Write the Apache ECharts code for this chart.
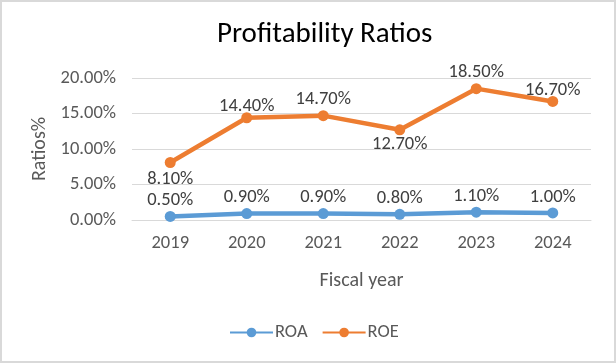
<!DOCTYPE html>
<html><head><meta charset="utf-8">
<script src="https://cdn.jsdelivr.net/npm/echarts@6/dist/echarts.min.js"></script>
<style>html,body{margin:0;padding:0;background:#fff}#c{width:616px;height:363px;box-sizing:border-box;border:2px solid #d9d9d9}</style>
</head><body><div id="c"></div>
<script>
const categories = ['2019','2020','2021','2022','2023','2024'];
const roa = [0.5, 0.9, 0.9, 0.8, 1.1, 1.0];
const roe = [8.1, 14.4, 14.7, 12.7, 18.5, 16.7];
const roeLabelPos = ['bottom','top','top','bottom','top','top'];
const roeLabelDist = [2, -4, 1, 0, 1, -4];
const FONT = 'Carlito, Calibri, Lato, sans-serif';
const chart = echarts.init(document.getElementById('c'));
const fmt = v => v.toFixed(2) + '%';
chart.setOption({
  animation: false,
  textStyle: {fontFamily: FONT},
  title: {text: 'Profitability Ratios', left: 210, top: 13,
    textStyle: {fontFamily: FONT, fontSize: 29, fontWeight: 'normal', color: '#000'}},
  legend: {top: 316, left: 222, itemWidth: 43, itemHeight: 12, itemGap: 14,
    textStyle: {fontFamily: FONT, fontSize: 18.5, color: '#595959', padding: [0,0,0,-3]},
    data: ['ROA','ROE']},
  grid: {left: 130, right: 23, top: 76, bottom: 141},
  xAxis: {type: 'category', data: categories, boundaryGap: true,
    name: 'Fiscal year', nameLocation: 'middle', nameGap: 51,
    nameTextStyle: {fontFamily: FONT, fontSize: 20, color: '#595959'},
    axisLine: {show: true, lineStyle: {color: '#d9d9d9'}}, axisTick: {show: false},
    axisLabel: {fontFamily: FONT, fontSize: 18.5, color: '#595959', margin: 14}},
  yAxis: {type: 'value', min: 0, max: 20, interval: 5,
    name: 'Ratios%', nameLocation: 'middle', nameGap: 82,
    nameTextStyle: {fontFamily: FONT, fontSize: 20, color: '#595959'},
    axisLine: {show: false}, axisTick: {show: false},
    splitLine: {lineStyle: {color: '#d9d9d9', width: 1}},
    axisLabel: {fontFamily: FONT, fontSize: 18.5, color: '#595959', margin: 16, formatter: fmt}},
  series: [
    {name: 'ROA', type: 'line', data: roa, symbol: 'circle', symbolSize: 11,
      itemStyle: {color: '#5B9BD5'}, lineStyle: {width: 4.5, color: '#5B9BD5'},
      label: {show: true, position: 'top', distance: 1, fontFamily: FONT, fontSize: 18.5, color: '#404040',
        formatter: p => fmt(p.value)}},
    {name: 'ROE', type: 'line', symbol: 'circle', symbolSize: 11,
      data: roe.map((v,i) => ({value: v, label: {position: roeLabelPos[i], distance: roeLabelDist[i]}})),
      itemStyle: {color: '#ED7D31'}, lineStyle: {width: 4.5, color: '#ED7D31'},
      label: {show: true, fontFamily: FONT, fontSize: 18.5, color: '#404040',
        formatter: p => fmt(p.value)}}
  ]
});
</script></body></html>
